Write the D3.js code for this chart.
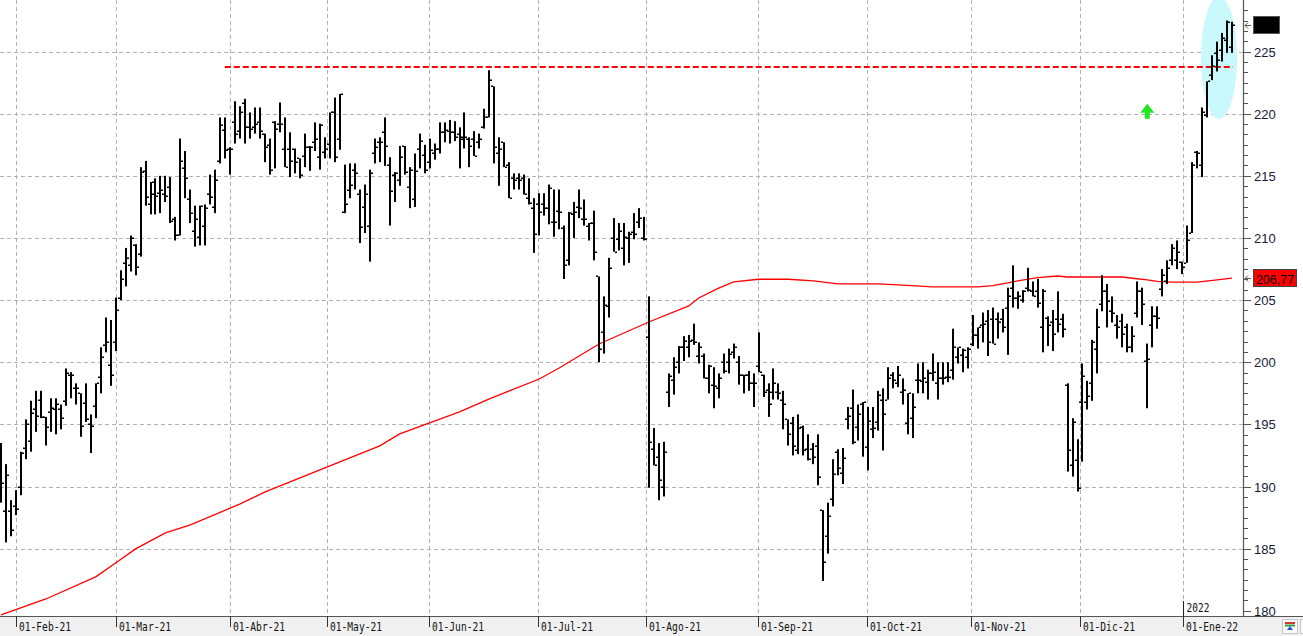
<!DOCTYPE html>
<html lang="es">
<head>
<meta charset="UTF-8">
<title>Gráfico diario</title>
<script src="https://d3js.org/d3.v7.min.js"></script>
<style>
  body { margin: 0; background: #fff; }
  svg { display: block; }
  .grid line { stroke: #b2b2b2; stroke-width: 1; stroke-dasharray: 4,3; }
  .xlab { font-family: "DejaVu Sans Mono", monospace; font-size: 12.5px; fill: #111; }
  .ylab { font-family: "Liberation Sans", Arial, sans-serif; font-size: 13px; fill: #16193a; }
</style>
</head>
<body>
<svg width="1303" height="636"></svg>
<script>
// OHLC diario, 27-ene-2021 a 14-ene-2022
const open = [192.6,188.0,188.0,188.4,190.0,193.1,193.7,196.2,197.0,195.6,196.0,196.2,196.2,196.9,199.0,197.9,197.5,196.7,195.0,196.5,
198.8,201.4,199.8,201.6,205.2,208.0,207.8,209.4,208.7,215.4,212.7,214.5,213.6,213.5,214.1,211.5,210.2,215.6,213.1,210.6,
210.1,211.0,213.5,212.5,216.2,218.7,217.2,219.3,218.6,220.9,218.9,218.9,219.3,218.4,217.5,219.3,219.2,217.2,217.2,217.2,
216.4,216.6,217.3,217.7,216.5,216.9,217.6,220.1,218.0,212.1,213.9,215.5,213.5,212.5,211.0,216.8,217.7,218.5,215.9,215.1,
214.7,217.4,214.1,213.1,217.2,216.7,216.1,216.8,217.2,218.5,218.6,218.5,218.4,218.1,218.0,218.0,217.7,218.9,219.7,222.2,
216.8,217.7,215.9,214.8,214.8,214.8,213.2,212.4,212.7,212.7,212.4,211.3,212.2,210.8,208.2,211.9,212.5,211.5,211.0,211.2,
206.9,202.4,204.5,210.0,209.9,209.2,210.0,210.5,211.3,210.0,202.0,193.0,192.4,190.0,197.6,198.6,200.0,201.2,201.2,201.8,
200.5,200.5,198.7,198.2,197.9,200.0,200.0,200.8,200.0,199.0,199.0,198.3,199.7,199.0,197.8,197.6,197.6,197.0,195.4,195.1,
192.9,194.8,193.0,193.0,193.3,188.1,186.0,189.0,192.8,191.1,195.4,196.3,194.8,196.6,193.2,194.6,195.2,197.0,197.0,199.0,
198.3,197.6,195.1,195.5,198.6,198.5,198.4,199.1,198.3,198.7,198.8,199.4,200.4,200.6,200.4,201.5,202.2,203.0,203.3,203.5,
203.5,203.5,204.4,206.0,205.2,205.0,206.0,205.7,205.7,202.8,203.6,203.2,203.5,203.5,198.2,191.7,192.1,196.8,196.8,198.3,
201.1,204.7,205.7,204.1,203.0,203.3,202.8,201.2,204.0,205.7,200.1,203.0,203.7,205.9,206.5,208.2,208.2,208.1,208.0,210.4,
216.9,215.9,219.9,223.1,224.9,225.1,225.9,225.4];
const high = [193.5,191.8,188.9,189.7,192.8,195.4,196.9,197.7,197.7,195.6,197.1,197.1,196.6,199.5,199.2,198.3,197.5,198.3,195.8,198.3,
201.2,203.6,203.4,205.2,207.4,209.2,210.2,209.5,215.7,216.2,214.5,214.8,215.0,215.0,214.9,211.7,218.0,217.0,213.9,212.6,
212.6,212.7,215.1,215.5,219.7,219.7,217.3,221.0,220.6,221.2,220.1,220.5,220.5,218.4,218.0,219.4,220.9,219.7,218.5,217.2,
216.4,218.4,217.4,219.3,219.2,218.1,220.1,221.3,221.6,215.9,216.0,216.0,213.9,214.3,215.5,218.0,218.1,219.7,216.5,215.3,
217.4,217.4,215.7,216.8,218.4,217.5,218.0,217.6,219.3,219.3,219.5,219.4,218.9,220.1,218.1,218.6,218.4,220.4,223.5,222.2,
218.1,217.7,216.1,215.2,215.2,215.1,214.8,213.2,213.6,213.6,214.3,213.9,213.9,211.0,212.1,212.9,213.9,213.1,211.2,212.2,
206.9,205.3,208.4,211.6,211.2,211.2,210.5,212.0,212.4,211.7,205.3,194.7,193.5,193.6,199.1,200.4,201.3,202.1,202.2,203.1,
201.6,200.7,199.8,199.6,199.1,200.7,201.1,201.5,200.5,199.0,199.3,199.1,202.4,199.0,198.3,199.5,198.3,197.7,195.4,195.6,
195.8,194.9,194.2,193.5,194.2,188.1,188.7,192.2,193.0,193.1,196.4,197.8,196.6,196.8,196.4,196.4,197.7,197.9,199.6,199.2,
199.7,198.7,197.5,197.5,199.9,200.0,199.4,200.7,200.0,200.0,200.0,202.7,201.2,201.1,201.2,203.8,202.8,204.0,204.2,204.4,
204.0,204.3,206.0,207.8,205.7,205.8,207.6,206.5,206.7,205.9,203.7,204.2,205.7,203.9,198.3,195.5,193.8,199.9,198.5,201.8,
204.3,207.0,206.3,205.3,203.8,203.9,203.1,202.9,206.5,206.0,201.5,204.5,204.5,207.5,208.2,209.5,209.8,208.1,211.0,216.1,
217.0,220.5,222.6,224.7,225.8,226.5,227.5,227.4];
const low = [188.7,185.5,186.0,187.7,189.3,192.2,192.8,194.4,195.5,193.3,194.4,194.2,194.6,196.5,197.1,196.6,194.0,195.2,192.7,195.5,
197.5,200.8,198.1,200.9,205.0,206.1,207.3,207.0,208.5,212.6,211.9,211.9,212.0,212.9,211.2,209.8,210.2,213.2,211.2,209.3,
209.4,209.4,212.7,212.0,216.0,216.4,215.1,217.6,218.0,217.6,218.0,218.4,218.0,216.1,215.1,215.6,218.5,215.7,214.9,215.2,
214.8,215.7,215.4,217.0,215.5,216.4,216.4,216.1,217.1,212.0,213.2,213.9,209.6,210.4,208.1,216.0,216.1,215.8,211.0,212.9,
214.2,215.1,212.4,212.5,215.6,215.2,215.6,216.3,216.8,217.7,217.6,217.8,215.6,217.2,215.7,216.6,217.2,218.8,219.7,216.0,
214.2,215.7,213.2,213.9,213.9,213.5,212.7,208.8,210.2,211.8,211.1,210.1,210.7,206.7,207.8,210.0,211.6,211.0,209.8,208.2,
200.0,200.7,203.6,208.9,209.0,207.8,208.0,209.9,210.8,209.8,189.9,191.7,188.9,189.2,196.4,197.4,199.1,200.1,200.4,201.4,
199.9,198.7,197.5,196.3,197.1,199.1,199.1,200.3,198.2,197.5,197.7,196.4,199.2,197.2,195.6,197.0,197.0,194.6,193.3,192.5,
192.6,192.5,192.1,191.8,190.1,182.4,184.6,188.4,190.9,190.2,194.6,193.4,193.7,192.4,191.3,193.9,194.5,192.9,197.0,197.9,
198.0,196.6,194.2,193.9,197.5,197.5,197.0,198.5,197.0,198.2,198.4,198.6,199.9,199.2,199.5,201.3,201.1,201.6,200.5,201.5,
201.9,202.4,200.6,204.4,204.3,204.8,205.7,205.3,204.4,200.8,201.3,200.9,202.4,202.0,191.2,190.8,189.6,192.0,196.2,196.9,
199.1,204.1,202.8,203.2,201.9,201.2,200.8,200.8,203.6,203.0,196.3,201.2,202.7,205.3,206.3,207.8,207.5,207.1,208.0,210.4,
215.6,214.9,219.7,222.7,223.4,224.2,224.9,224.9];
const close = [190.3,190.9,186.5,188.2,192.7,195.0,195.9,195.7,195.6,194.8,196.3,196.6,195.5,199.1,199.0,197.9,194.9,195.4,194.9,198.3,
200.4,201.6,199.0,204.2,206.7,208.4,210.0,207.7,215.3,213.3,213.5,213.4,213.9,213.4,211.4,210.2,216.2,214.8,212.0,211.5,
212.6,212.4,213.3,214.7,219.1,217.1,217.2,218.4,220.1,218.9,218.8,219.2,218.6,217.3,215.5,218.8,219.2,215.7,216.2,216.1,
215.1,217.3,217.3,218.0,219.1,217.2,220.1,216.5,221.6,212.7,214.3,215.2,210.9,213.5,215.2,217.3,217.7,217.4,213.8,215.2,
216.5,215.3,215.5,215.4,217.8,215.5,217.1,217.2,218.5,218.7,218.5,218.1,218.0,218.1,217.4,216.6,218.0,219.7,222.7,217.3,
217.2,215.7,213.2,214.7,214.7,213.5,212.8,210.3,212.1,212.4,214.0,211.3,212.1,207.8,212.0,212.1,212.4,211.5,211.2,208.9,
201.1,204.6,207.6,208.9,210.6,210.1,210.3,210.3,211.6,209.9,193.6,191.7,190.5,192.8,198.9,199.6,201.2,201.7,201.7,201.6,
201.2,198.7,199.7,198.1,198.7,199.3,200.7,201.2,199.0,199.0,198.3,198.3,199.2,197.6,196.6,198.3,197.5,196.6,194.2,193.3,
194.7,192.9,192.2,192.4,190.8,183.9,187.6,191.0,191.5,192.3,195.7,193.6,195.8,196.8,195.3,194.7,197.4,195.8,198.7,198.6,
199.0,197.8,197.5,196.4,198.6,198.7,199.1,199.2,198.7,198.7,198.8,201.2,201.2,201.0,201.1,202.2,202.8,203.1,201.6,201.5,
203.2,202.8,205.3,205.2,205.3,205.7,205.8,205.3,204.8,205.7,203.0,202.3,203.1,202.7,192.9,195.2,189.9,198.9,197.3,201.6,
202.8,205.7,204.9,204.0,202.8,202.3,201.2,202.1,205.7,204.7,200.3,203.7,203.6,207.0,207.6,209.2,208.9,207.7,209.8,215.9,
216.8,220.1,222.6,223.8,224.3,226.1,227.4,227.1];

// media móvil (índice de barra, valor)
const maIdx = [0,9,19,23,27,33,38,48,53,60,66,72,76,80,86,92,98,102,108,112,120,130,138,140,144,147,152,158,163,168,176,180,187,196,199,202,204,208,212,214,219,225,227,230,232,235,240,244,247];
const maVal = [179.67,180.95,182.73,183.85,184.98,186.27,186.91,188.6,189.57,190.69,191.66,192.62,193.27,194.23,195.12,196.0,197.05,197.69,198.65,199.54,201.47,203.24,204.53,205.17,205.97,206.46,206.68,206.68,206.54,206.3,206.3,206.22,206.06,206.06,206.17,206.38,206.54,206.81,206.94,206.86,206.86,206.86,206.76,206.62,206.5,206.44,206.44,206.62,206.77];

const monthLabels = ["01-Feb-21","01-Mar-21","01-Abr-21","01-May-21","01-Jun-21","01-Jul-21","01-Ago-21","01-Sep-21","01-Oct-21","01-Nov-21","01-Dic-21","01-Ene-22"];
const monthIdx = [3, 23.1, 45.9, 65.4, 85.8, 107.8, 129.5, 151.8, 173.8, 194.7, 216.5, 237.2];
const yTicks = [180, 185, 190, 195, 200, 205, 210, 215, 220, 225];

const resistance = 223.76, resFrom = 44.9, resTo = 247.2;
const maLast = "206,77";

const width = 1303, height = 636, plotR = 1243, plotB = 616;
const svg = d3.select("svg");

const x = d3.scaleLinear().domain([0, 247]).range([1, 1232]);
const y = d3.scaleLinear().domain([179.58, 229.15]).range([plotB, 0]);

svg.append("rect").attr("width", width).attr("height", height).attr("fill", "#fff");
svg.append("rect").attr("x", 0).attr("y", plotB + 1).attr("width", width).attr("height", height - plotB - 1).attr("fill", "#f0f0f0");

svg.append("defs").append("clipPath").attr("id", "plot")
  .append("rect").attr("x", 0).attr("y", 0).attr("width", plotR).attr("height", plotB);
svg.append("defs").append("clipPath").attr("id", "xlabs")
  .append("rect").attr("x", 0).attr("y", plotB).attr("width", 1239).attr("height", height - plotB);

// rejilla
const grid = svg.append("g").attr("class", "grid");
grid.selectAll("line.h").data(yTicks.filter(v => v > 180)).join("line").attr("class", "h")
  .attr("x1", 0).attr("x2", plotR)
  .attr("y1", d => Math.round(y(d)) + 0.5).attr("y2", d => Math.round(y(d)) + 0.5);
grid.selectAll("line.v").data(monthIdx).join("line").attr("class", "v")
  .attr("y1", 0).attr("y2", plotB)
  .attr("x1", d => Math.round(x(d)) + 0.5).attr("x2", d => Math.round(x(d)) + 0.5);

const plot = svg.append("g").attr("clip-path", "url(#plot)");

// zona resaltada
plot.append("ellipse")
  .attr("cx", x(244.4)).attr("cy", y(224.5))
  .attr("rx", 18).attr("ry", 61)
  .attr("fill", "#c9f8fd");

// media móvil
const maLine = d3.line().x((d, i) => x(maIdx[i])).y(d => y(d));
plot.append("path").datum(maVal).attr("d", maLine)
  .attr("fill", "none").attr("stroke", "#ff0000").attr("stroke-width", 1.3);

// resistencia
plot.append("line")
  .attr("x1", x(resFrom)).attr("x2", x(resTo))
  .attr("y1", y(resistance)).attr("y2", y(resistance))
  .attr("stroke", "#ff0000").attr("stroke-width", 2).attr("stroke-dasharray", "6,3");

// barras OHLC
const idx = d3.range(open.length);
const px = i => Math.round(x(i));
plot.selectAll("rect.hl").data(idx).join("rect").attr("class", "hl")
  .attr("x", i => px(i) - 1).attr("width", 2)
  .attr("y", i => y(high[i])).attr("height", i => Math.max(1, y(low[i]) - y(high[i])))
  .attr("fill", "#000");
plot.selectAll("rect.op").data(idx).join("rect").attr("class", "op")
  .attr("x", i => px(i) - 3).attr("width", 2)
  .attr("y", i => Math.round(y(open[i])) - 0.5).attr("height", 1.5)
  .attr("fill", "#000");
plot.selectAll("rect.cl").data(idx).join("rect").attr("class", "cl")
  .attr("x", i => px(i) + 1).attr("width", 2)
  .attr("y", i => Math.round(y(close[i])) - 0.5).attr("height", 1.5)
  .attr("fill", "#000");

// flecha verde
const ax = x(230), ay = y(220.8);
plot.append("polygon")
  .attr("points", [[0,0],[7,9],[2.5,9],[2.5,15],[-2.5,15],[-2.5,9],[-7,9]].map(p => [ax + p[0], ay + p[1]].join(",")).join(" "))
  .attr("fill", "#22e622");

// ejes
svg.append("line").attr("x1", 0).attr("x2", width).attr("y1", plotB + 0.5).attr("y2", plotB + 0.5)
  .attr("stroke", "#555").attr("stroke-width", 1.2);
svg.append("line").attr("x1", plotR + 0.5).attr("x2", plotR + 0.5).attr("y1", 0).attr("y2", plotB)
  .attr("stroke", "#555").attr("stroke-width", 1.2);

// eje X
const xg = svg.append("g");
xg.selectAll("line").data(monthIdx).join("line")
  .attr("x1", d => Math.round(x(d)) + 0.5).attr("x2", d => Math.round(x(d)) + 0.5)
  .attr("y1", plotB).attr("y2", plotB + 11).attr("stroke", "#333");
xg.append("g").attr("clip-path", "url(#xlabs)")
  .selectAll("text").data(monthLabels).join("text").attr("class", "xlab")
  .attr("x", (d, i) => Math.round(x(monthIdx[i])) + 3).attr("y", 631)
  .attr("textLength", 52).attr("lengthAdjust", "spacingAndGlyphs")
  .text(d => d);
// marca de año
const yearX = Math.round(x(monthIdx[11])) + 0.5;
svg.append("line").attr("x1", yearX).attr("x2", yearX).attr("y1", 601).attr("y2", plotB)
  .attr("stroke", "#222");
svg.append("text").attr("class", "xlab").attr("x", yearX + 3).attr("y", 612)
  .attr("textLength", 23).attr("lengthAdjust", "spacingAndGlyphs").text("2022");

// eje Y
const minor = d3.range(0, 60).map(k => 180 + k * 5 / 6).filter(v => v < 229 && Math.abs(v / 5 - Math.round(v / 5)) > 0.01);
svg.append("g").selectAll("line").data(minor).join("line")
  .attr("x1", plotR).attr("x2", plotR + 5)
  .attr("y1", d => Math.round(y(d)) + 0.5).attr("y2", d => Math.round(y(d)) + 0.5)
  .attr("stroke", "#555");
svg.append("g").selectAll("line").data(yTicks).join("line")
  .attr("x1", plotR).attr("x2", plotR + 8)
  .attr("y1", d => Math.round(y(d)) + 0.5).attr("y2", d => Math.round(y(d)) + 0.5)
  .attr("stroke", "#555");
svg.append("g").selectAll("text").data(yTicks).join("text").attr("class", "ylab")
  .attr("x", plotR + 11).attr("y", d => y(d) + 5)
  .text(d => d);

// etiquetas de precio
function pointer(v) {
  const py = Math.round(y(v)) + 0.5;
  svg.append("path")
    .attr("d", `M${plotR + 8},${py}H${plotR + 2}M${plotR + 5},${py - 3}L${plotR + 2},${py}L${plotR + 5},${py + 3}`)
    .attr("fill", "none").attr("stroke", "#555");
  return py;
}
const lastY = pointer(close[close.length - 1]);
svg.append("rect").attr("x", 1253.5).attr("y", lastY - 9).attr("width", 26).attr("height", 17)
  .attr("fill", "#000").attr("stroke", "#555");

const maY = pointer(maVal[maVal.length - 1]);
svg.append("rect").attr("x", 1253.5).attr("y", maY - 9).attr("width", 43).attr("height", 17)
  .attr("fill", "#ff0000").attr("stroke", "#444");
svg.append("text").attr("class", "ylab").style("fill", "#000").style("font-size", "12.5px")
  .attr("x", 1275).attr("y", maY + 5).attr("text-anchor", "middle").text(maLast);

// icono esquina
const ic = svg.append("g");
ic.append("rect").attr("x", 1282.5).attr("y", 619.5).attr("width", 15).attr("height", 14)
  .attr("fill", "#fafafa").attr("stroke", "#c8c8c8");
ic.append("rect").attr("x", 1285).attr("y", 622).attr("width", 10).attr("height", 2).attr("fill", "#d23a2a");
ic.append("rect").attr("x", 1285).attr("y", 624.5).attr("width", 10).attr("height", 2).attr("fill", "#3a9a3a");
ic.append("polygon").attr("points", "1290,626 1293,630 1287,630").attr("fill", "#1a5ad8");
ic.append("rect").attr("x", 1300.5).attr("y", 619.5).attr("width", 4).attr("height", 14)
  .attr("fill", "#fafafa").attr("stroke", "#c8c8c8");
</script>
</body>
</html>
